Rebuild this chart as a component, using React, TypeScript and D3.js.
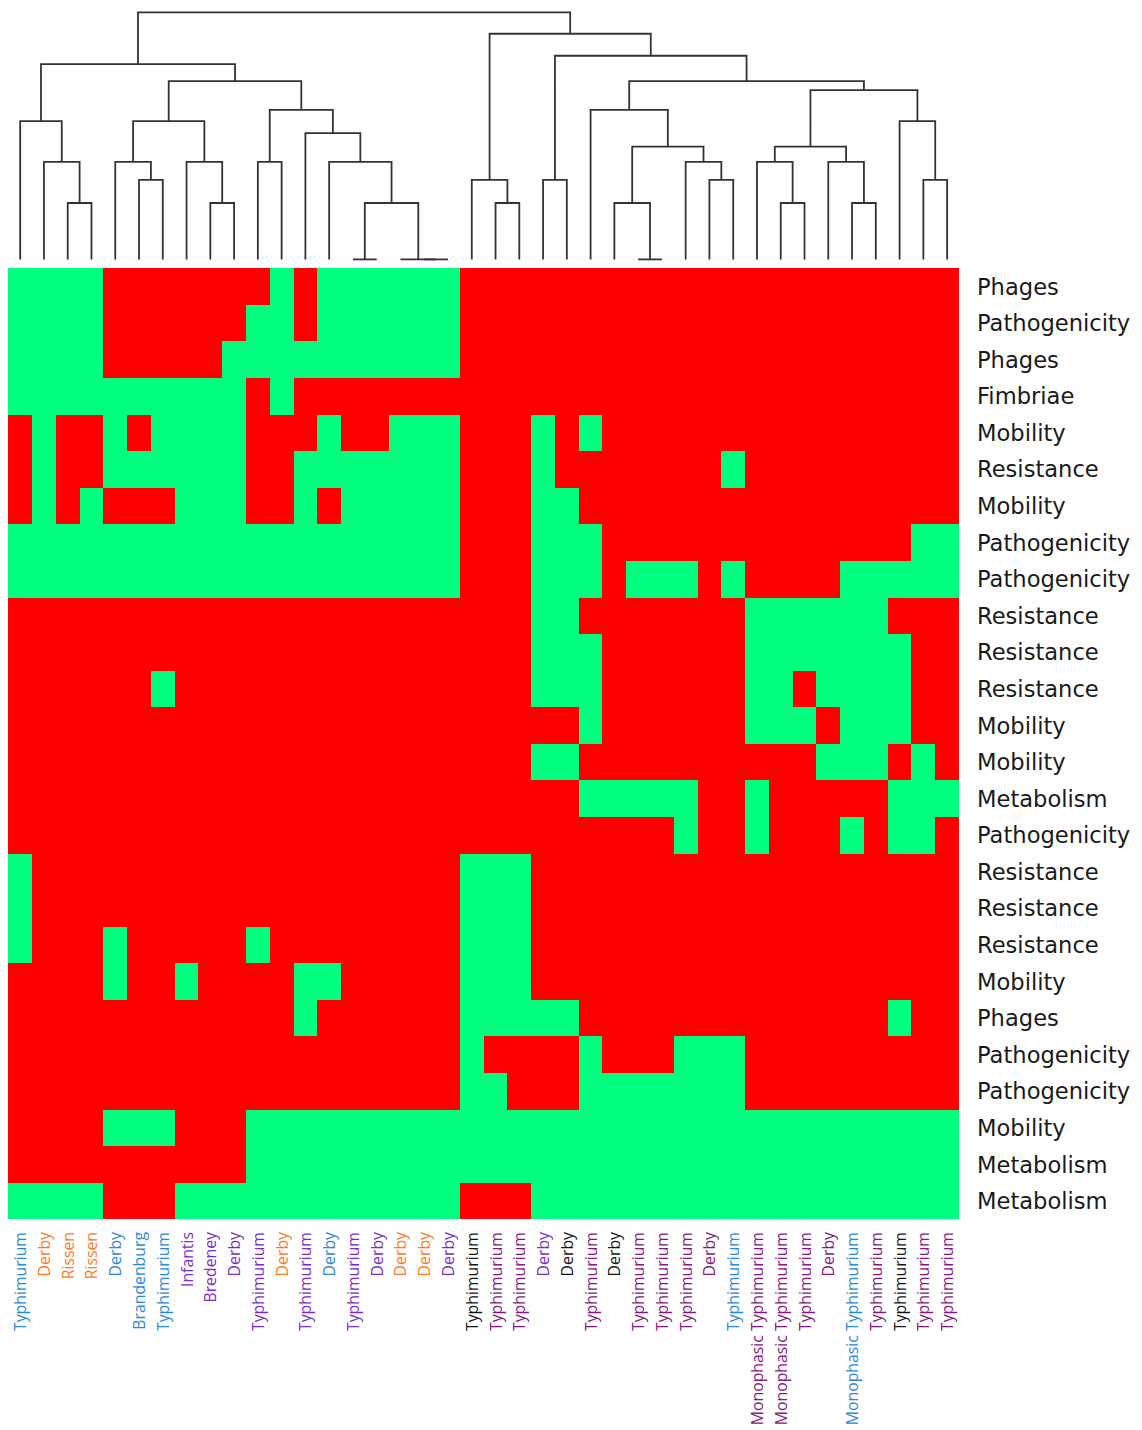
import React from 'react';
import * as d3 from 'd3';

// gene groups, top to bottom
const features = [
  'Phages', 'Pathogenicity', 'Phages', 'Fimbriae', 'Mobility', 'Resistance', 'Mobility',
  'Pathogenicity', 'Pathogenicity', 'Resistance', 'Resistance', 'Resistance', 'Mobility',
  'Mobility', 'Metabolism', 'Pathogenicity', 'Resistance', 'Resistance', 'Resistance',
  'Mobility', 'Phages', 'Pathogenicity', 'Pathogenicity', 'Mobility', 'Metabolism', 'Metabolism',
];

// isolates, left to right (dendrogram leaf order)
const isolates = [
  'Typhimurium', 'Derby', 'Rissen', 'Rissen', 'Derby', 'Brandenburg', 'Typhimurium', 'Infantis',
  'Bredeney', 'Derby', 'Typhimurium', 'Derby', 'Typhimurium', 'Derby', 'Typhimurium', 'Derby',
  'Derby', 'Derby', 'Derby', 'Typhimurium', 'Typhimurium', 'Typhimurium', 'Derby', 'Derby',
  'Typhimurium', 'Derby', 'Typhimurium', 'Typhimurium', 'Typhimurium', 'Derby', 'Typhimurium',
  'Monophasic Typhimurium', 'Monophasic Typhimurium', 'Typhimurium', 'Derby',
  'Monophasic Typhimurium', 'Typhimurium', 'Typhimurium', 'Typhimurium', 'Typhimurium',
];

// label colour group of each isolate (origin)
const origins = [
  'blue', 'orange', 'orange', 'orange', 'blue', 'blue', 'blue', 'violet',
  'violet', 'violet', 'violet', 'orange', 'violet', 'blue', 'violet', 'violet',
  'orange', 'orange', 'violet', 'black', 'purple', 'purple', 'violet', 'black',
  'purple', 'black', 'purple', 'purple', 'purple', 'purple', 'blue',
  'purple', 'purple', 'purple', 'purple',
  'blue', 'purple', 'black', 'purple', 'purple',
];

// 1 = present (green), 0 = absent (red); one string per feature row
const presence = [
  '1111000000010111111000000000000000000000',
  '1111000000110111111000000000000000000000',
  '1111000001111111111000000000000000000000',
  '1111111111010000000000000000000000000000',
  '0100101111000100111000101000000000000000',
  '0100111111001111111000100000001000000000',
  '0101000111001011111000110000000000000000',
  '1111111111111111111000111000000000000011',
  '1111111111111111111000111011101000011111',
  '0000000000000000000000110000000111111000',
  '0000000000000000000000111000000111111100',
  '0000001000000000000000111000000110111100',
  '0000000000000000000000001000000111011100',
  '0000000000000000000000110000000000111010',
  '0000000000000000000000001111100100000111',
  '0000000000000000000000000000100100010110',
  '1000000000000000000111000000000000000000',
  '1000000000000000000111000000000000000000',
  '1000100000100000000111000000000000000000',
  '0000100100001100000111000000000000000000',
  '0000000000001000000111110000000000000100',
  '0000000000000000000100001000111000000000',
  '0000000000000000000110001111111000000000',
  '0000111000111111111111111111111111111111',
  '0000000000111111111111111111111111111111',
  '1111000111111111111000111111111111111111',
];

// hierarchical clustering: [height, left, right], leaves are column indices
type Node = number | [number, Node, Node];
const linkage: Node = [4.38,
  [3.46,
    [2.45, 0, [1.73, 1, [1.0, 2, 3]]],
    [3.16,
      [2.45, [1.73, 4, [1.41, 5, 6]], [1.73, 7, [1.0, 8, 9]]],
      [2.65, [1.73, 10, 11], [2.24, 12, [1.73, 13, [1.0, [0, 14, 15], [0, 16, [0, 17, 18]]]]]],
    ],
  ],
  [4.0,
    [1.41, 19, [1.0, 20, 21]],
    [3.61,
      [1.41, 22, 23],
      [3.16,
        [2.65, 24, [2.0, [1.0, 25, [0, 26, 27]], [1.73, 28, [1.41, 29, 30]]]],
        [3.0,
          [2.0, [1.73, 31, [1.0, 32, 33]], [1.73, 34, [1.0, 35, 36]]],
          [2.45, 37, [1.41, 38, 39]],
        ],
      ],
    ],
  ],
];

const W = 1142;
const H = 1430;

const App: React.FC = () => {
  const x = d3.scaleBand<number>().domain(d3.range(isolates.length)).range([8.3, 959]);
  const y = d3.scaleBand<number>().domain(d3.range(features.length)).range([268.3, 1219.4]);
  const hy = d3.scaleLinear().domain([0, 4.38]).range([259.4, 12.3]);
  const fill = (v: string) => (v === '1' ? '#00ff7f' : '#ff0000');
  const labelColor = d3
    .scaleOrdinal<string, string>()
    .domain(['blue', 'orange', 'violet', 'purple', 'black'])
    .range(['#2b8ad6', '#ff7a26', '#7b2fc2', '#84197f', '#151515']);

  // walk the tree, collect elbow paths
  const links: string[] = [];
  const walk = (n: Node): { cx: number; h: number } => {
    if (typeof n === 'number') return { cx: x(n)! + x.bandwidth() / 2, h: 0 };
    const [h, l, r] = n;
    const a = walk(l);
    const b = walk(r);
    links.push(`M${a.cx},${hy(a.h)}V${hy(h)}H${b.cx}V${hy(b.h)}`);
    return { cx: (a.cx + b.cx) / 2, h };
  };
  walk(linkage);

  return (
    <svg width={W} height={H} style={{ position: 'absolute', left: 0, top: 0, background: '#fff' }}>
      <g fill="none" stroke="#333" strokeWidth={1.8}>
        {links.map((d, i) => (
          <path key={i} d={d} />
        ))}
      </g>

      <g shapeRendering="crispEdges">
        {presence.map((row, r) =>
          row.split('').map((v, c) => (
            <rect key={`${r}-${c}`} x={x(c)} y={y(r)} width={x.bandwidth()} height={y.bandwidth()} fill={fill(v)} />
          ))
        )}
      </g>

      <g fontFamily="'DejaVu Sans', Verdana, sans-serif" fontSize={22.6} fill="#1a1a1a">
        {features.map((f, r) => (
          <text key={r} x={977} y={y(r)! + y.bandwidth() / 2} dominantBaseline="central">
            {f}
          </text>
        ))}
      </g>

      <g fontFamily="'Open Sans', sans-serif" fontSize={15.8}>
        {isolates.map((s, c) => (
          <text
            key={c}
            transform={`translate(${x(c)! + x.bandwidth() / 2},1232) rotate(-90)`}
            textAnchor="end"
            dominantBaseline="central"
            fill={labelColor(origins[c])}
          >
            {s}
          </text>
        ))}
      </g>
    </svg>
  );
};

export default App;
